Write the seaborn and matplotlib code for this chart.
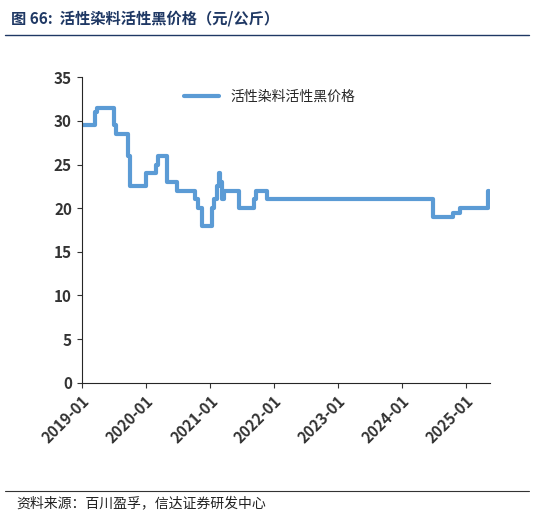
import pandas as pd
import matplotlib
matplotlib.use("Agg")
import matplotlib.pyplot as plt
import matplotlib.dates as mdates
import seaborn as sns

sns.set_style("ticks")
plt.rcParams['font.family'] = ['Noto Sans CJK SC', 'DejaVu Sans']

dates = ["2019-01-01", "2019-03-20", "2019-03-28", "2019-07-05", "2019-07-15", "2019-09-20",
         "2019-10-05", "2020-01-01", "2020-03-01", "2020-03-10", "2020-05-01", "2020-06-25",
         "2020-10-10", "2020-10-28", "2020-11-20", "2021-01-15", "2021-01-25", "2021-02-10",
         "2021-02-20", "2021-03-01", "2021-03-10", "2021-03-25", "2021-06-15", "2021-09-10",
         "2021-09-20", "2021-11-25", "2024-06-25", "2024-10-20", "2024-12-01", "2025-05-10",
         "2025-05-12"]
price = [29.5, 31.0, 31.5, 29.5, 28.5, 26.0,
         22.5, 24.0, 25.0, 26.0, 23.0, 22.0,
         21.0, 20.0, 18.0, 20.0, 21.0, 22.5,
         24.0, 23.0, 21.0, 22.0, 20.0, 21.0,
         22.0, 21.0, 19.0, 19.5, 20.0, 22.0,
         22.0]
df = pd.DataFrame({"date": pd.to_datetime(dates), "price": price})

fig = plt.figure(figsize=(5.34, 5.18), dpi=100)
ax = fig.add_axes([0.153, 0.261, 0.765, 0.59])
sns.lineplot(data=df, x="date", y="price", ax=ax, drawstyle="steps-post",
             color="#5B9BD5", linewidth=3, label="活性染料活性黑价格")
ax.set_ylim(0, 35)
ax.set_yticks(range(0, 36, 5))
ax.set_xlim(pd.Timestamp("2019-01-01"), pd.Timestamp("2025-05-20"))
ax.xaxis.set_major_locator(mdates.YearLocator())
ax.xaxis.set_major_formatter(mdates.DateFormatter("%Y-%m"))
ax.set_xlabel("")
ax.set_ylabel("")
for lab in ax.get_xticklabels():
    lab.set_rotation(45)
    lab.set_ha("right")
    lab.set_rotation_mode("anchor")
ax.tick_params(labelsize=11, colors="#333333", direction="out")
for lab in ax.get_xticklabels() + ax.get_yticklabels():
    lab.set_fontweight("bold")
sns.despine(ax=ax)
ax.legend(loc="upper center", frameon=False, fontsize=10, handlelength=2.5,
          bbox_to_anchor=(0.46, 1.0))

fig.text(0.02, 0.965, "图 66:  活性染料活性黑价格（元/公斤）", fontsize=11,
         fontweight="bold", color="#1F3864", va="center")
fig.add_artist(plt.Line2D([0.01, 0.99], [0.932, 0.932], color="#1F3864", linewidth=1))
fig.add_artist(plt.Line2D([0.01, 0.99], [0.052, 0.052], color="#333333", linewidth=0.8))
fig.text(0.03, 0.028, "资料来源：百川盈孚，信达证券研发中心", fontsize=10,
         style="italic", color="#222222", va="center")

fig.savefig("out.png", dpi=100)
